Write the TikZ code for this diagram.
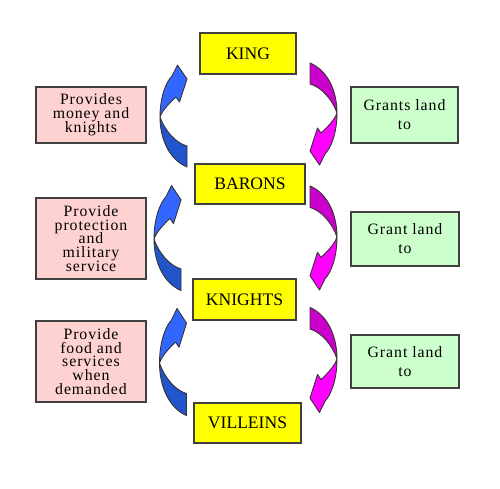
\documentclass[tikz,border=0pt]{standalone}
\usepackage{fontspec}
\setmainfont{Liberation Serif}
\newfontfamily\boxfont[LetterSpace=6]{Liberation Serif}
\newdimen\pxu \pxu=0.02cm
\newcommand\tightlines{\lineskiplimit=-20pt\relax}
\newcommand\dutyfont{\boxfont\fontsize{9}{7.9}\selectfont\tightlines}
\newcommand\grantfont{\boxfont\fontsize{9}{10.8}\selectfont\tightlines}
\definecolor{rankyellow}{RGB}{255,255,0}
\definecolor{pinkbox}{RGB}{255,210,210}
\definecolor{greenbox}{RGB}{204,255,204}
\definecolor{bluelight}{RGB}{51,102,255}
\definecolor{bluedark}{RGB}{34,85,204}
\definecolor{magdark}{RGB}{204,0,204}
\definecolor{maglight}{RGB}{255,0,255}
\newcommand\curlarrow[6]{%
\begin{scope}[shift={(#1,#2)},rotate=#3,yscale=#4]
 \filldraw[fill=#6,curledge] (-13.5,1) .. controls (-13.5,24) and (-3.5,44) .. (13.5,51) -- (13.5,30) .. controls (2,27) and (-9,14) .. cycle;
 \filldraw[fill=#5,curledge] (-13.5,1) .. controls (-13.5,-19) and (-7.5,-34) .. (-1.5,-40) -- (4,-51) -- (13.5,-37) -- (6,-14) -- (2.5,-19) .. controls (-4,-13) and (-11,-6) .. cycle;
\end{scope}}
\begin{document}
\begin{tikzpicture}[x=0.02cm,y=-0.02cm,
  curledge/.style={draw=black!80,line width=0.5pt,line join=round},
  rank/.style={draw=black!75,line width=0.7pt,fill=rankyellow,minimum height=40\pxu,inner sep=0pt,font=\fontsize{10}{12}\selectfont},
  duty/.style={draw=black!75,line width=0.7pt,fill=pinkbox,minimum width=110\pxu,inner sep=0pt,align=center,font=\dutyfont},
  grant/.style={draw=black!75,line width=0.7pt,fill=greenbox,minimum width=108\pxu,inner sep=0pt,align=center,font=\grantfont}]
\fill[white] (0,0) rectangle (500,488);
\useasboundingbox (0,0) rectangle (500,488);
% ranks
\node[rank,minimum width=96\pxu,minimum height=41\pxu] (king) at (248,53.5) {KING};
\node[rank,minimum width=110\pxu] (barons) at (250,184) {BARONS};
\node[rank,minimum width=103\pxu,minimum height=41\pxu] (knights) at (244.5,299.5) {KNIGHTS};
\node[rank,minimum width=107\pxu] (villeins) at (247.5,423) {VILLEINS};
% duties
\node[duty,minimum height=56\pxu] (duty1) at (91,115) {Provides\\money and\\knights};
\node[duty,minimum height=81\pxu] (duty2) at (91,238.5) {Provide\\protection\\and\\military\\service};
\node[duty,minimum height=81\pxu] (duty3) at (91,361.5) {Provide\\food and\\services\\when\\demanded};
% grants
\node[grant,minimum width=107\pxu,minimum height=56\pxu] (grant1) at (404.5,115) {Grants land\\to};
\node[grant,minimum height=54\pxu] (grant2) at (405,239) {Grant land\\to};
\node[grant,minimum height=53\pxu] (grant3) at (405,361.5) {Grant land\\to};
% curved arrows
\curlarrow{173.5}{116}{0}{1}{bluelight}{bluedark}
\curlarrow{167.5}{238}{0}{1.03}{bluelight}{bluedark}
\curlarrow{173}{362}{0}{1.05}{bluelight}{bluedark}
\curlarrow{323.5}{114}{180}{1}{maglight}{magdark}
\curlarrow{323.5}{238}{180}{1.02}{maglight}{magdark}
\curlarrow{323.5}{360}{180}{1.03}{maglight}{magdark}
\end{tikzpicture}
\end{document}
